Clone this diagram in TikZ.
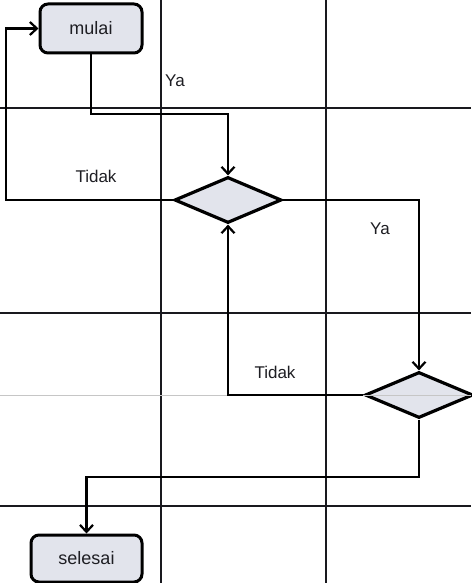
\documentclass[tikz,border=0pt]{standalone}
\usepackage{fontspec}
\setmainfont{Liberation Sans}
\usetikzlibrary{shapes.geometric,arrows.meta}
\definecolor{boxfill}{RGB}{226,228,236}
\definecolor{txt}{RGB}{30,30,35}
\definecolor{gridc}{RGB}{25,25,30}
\tikzset{
  gridline/.style={draw=gridc,line width=1.6pt},
  faintline/.style={draw=gray!45,line width=0.8pt},
  termbox/.style={draw=black,line width=3pt,fill=boxfill,rounded corners=8pt,
     inner sep=0pt,font=\fontsize{18}{21}\selectfont,text=txt},
  decbox/.style={draw=black,line width=3.2pt,fill=boxfill,diamond,inner sep=0pt},
  conn/.style={draw=black,line width=2.8pt,-{Straight Barb[length=7pt,width=13pt,line width=2.2pt]}},
  lbl/.style={font=\fontsize{17}{20}\selectfont,text=txt,inner sep=0pt}
}
\begin{document}
\begin{tikzpicture}[x=1pt,y=-1pt]
\useasboundingbox (0,0) rectangle (471,583);
\fill[white] (0,0) rectangle (471,583);
% grid
\draw[gridline] (161,0) -- (161,583);
\draw[gridline] (326,0) -- (326,583);
\draw[gridline] (0,108) -- (471,108);
\draw[gridline] (0,313) -- (471,313);
\draw[gridline] (0,506) -- (471,506);
% nodes
\node[termbox,minimum width=102pt,minimum height=49pt] (mulai) at (91,28.5) {mulai};
\node[decbox,minimum width=107pt,minimum height=46pt] (d1) at (228,200) {};
\node[decbox,minimum width=108pt,minimum height=46pt] (d2) at (419,395) {};
\node[termbox,minimum width=111pt,minimum height=47pt] (selesai) at (86.5,558.5) {selesai};
\draw[faintline] (0,395) -- (471,395);
% labels
\node[lbl] (ya1) at (175,81) {Ya};
\node[lbl] (tidak1) at (96,176) {Tidak};
\node[lbl] (ya2) at (380,229) {Ya};
\node[lbl] (tidak2) at (275,372) {Tidak};
% connectors
\coordinate (c1) at (91,114);
\coordinate (c2) at (228,114);
\draw[conn] (mulai.south) -- (c1) -- (c2) -- (d1.north);
\coordinate (c3) at (6,200);
\coordinate (c4) at (6,28.5);
\draw[conn] (d1.west) -- (c3) -- (c4) -- (mulai.west);
\coordinate (c5) at (419,200);
\draw[conn] (d1.east) -- (c5) -- (d2.north);
\coordinate (c6) at (228,395);
\draw[conn] (d2.west) -- (c6) -- (d1.south);
\coordinate (c7) at (419,477);
\coordinate (c8) at (86.5,477);
\draw[conn] (d2.south) -- (c7) -- (c8) -- (selesai.north);
\end{tikzpicture}
\end{document}
